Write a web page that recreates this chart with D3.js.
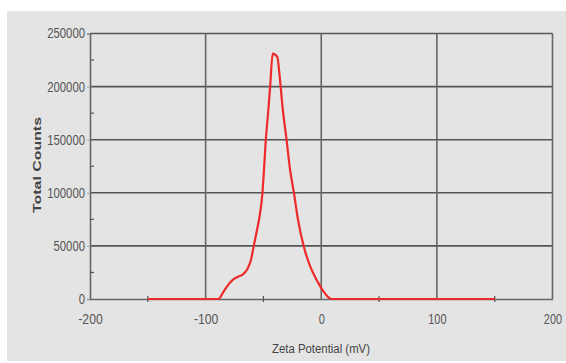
<!DOCTYPE html>
<html><head><meta charset="utf-8">
<script src="https://cdn.jsdelivr.net/npm/d3@7"></script>
<style>body{margin:0;background:#fff}svg{display:block}</style>
</head><body>
<svg id="c" width="566" height="363"></svg>
<script>
const xTicks = [-200, -100, 0, 100, 200];
const xMinor = [-150, -50, 50, 150];
const yTicks = [0, 50000, 100000, 150000, 200000, 250000];
const yMinor = [25000, 75000, 125000, 175000, 225000];
const zeta = [-150,-89,-85,-80,-76,-72,-68,-64,-61,-58,-55,-53,-51,-49.5,-48,-46,-44.2,-42,-38,-36,-33.5,-30,-27,-23.5,-20,-15,-10,-5,-2,2,5.5,9,150];
const counts = [0,0,6000,14000,18500,21000,23000,28000,36000,52000,68000,80000,98000,122000,149000,175000,200000,231000,228000,210000,181000,150000,122000,99000,74000,49000,32000,20000,14000,7000,2200,0,0];
const xTitle = "Zeta Potential (mV)";
const yTitle = "Total Counts";

const svg = d3.select("#c");
svg.append("rect").attr("x",7).attr("y",11).attr("width",559).attr("height",350).attr("fill","#e4e4e4");
const L=90, R=552.5, T=33.5, B=299;
const x = d3.scaleLinear().domain([-200,200]).range([L,R]);
const y = d3.scaleLinear().domain([0,250000]).range([B,T]);
const font = "'Liberation Sans',Arial,sans-serif";
const fmt = d => String(d);

// grid
svg.append("g").selectAll("line").data(yTicks.filter(d=>d>0)).join("line")
  .attr("x1",L).attr("x2",R).attr("y1",d=>y(d)).attr("y2",d=>y(d))
  .attr("stroke","#555").attr("stroke-width",1.6);
svg.append("g").selectAll("line").data(xTicks.filter(d=>d>-200)).join("line")
  .attr("y1",T).attr("y2",B).attr("x1",d=>x(d)).attr("x2",d=>x(d))
  .attr("stroke","#666").attr("stroke-width",1.6);

// axes
const ax = svg.append("g").attr("transform",`translate(0,${B})`)
  .call(d3.axisBottom(x).tickValues(xTicks).tickSize(0).tickPadding(15).tickFormat(fmt));
ax.select(".domain").attr("stroke","#666").attr("stroke-width",1.6);
ax.selectAll("text").attr("font-family",font).attr("font-size",14).attr("fill","#555")
  .attr("textLength",function(){return this.textContent.length*6.1;}).attr("lengthAdjust","spacingAndGlyphs");
const ay = svg.append("g").attr("transform",`translate(${L},0)`)
  .call(d3.axisLeft(y).tickValues(yTicks).tickSize(3).tickPadding(2).tickFormat(fmt));
ay.select(".domain").attr("stroke","#666").attr("stroke-width",1.6);
ay.selectAll(".tick line").attr("stroke","#9ab");
ay.selectAll("text").attr("font-family",font).attr("font-size",14).attr("fill","#555")
  .attr("textLength",function(){return this.textContent.length*6.3;}).attr("lengthAdjust","spacingAndGlyphs");

// minor ticks
svg.append("g").selectAll("line").data(xMinor).join("line")
  .attr("x1",d=>x(d)).attr("x2",d=>x(d)).attr("y1",B-3).attr("y2",B+3)
  .attr("stroke","#555").attr("stroke-width",1.2);
svg.append("g").selectAll("line").data(yMinor).join("line")
  .attr("x1",L).attr("x2",L+4).attr("y1",d=>y(d)).attr("y2",d=>y(d))
  .attr("stroke","#555").attr("stroke-width",1.2);

// curve
const pts = zeta.map((v,i)=>[v,counts[i]]);
svg.append("path").datum(pts)
  .attr("d", d3.line().x(d=>x(d[0])).y(d=>y(d[1])).curve(d3.curveMonotoneX))
  .attr("fill","none").attr("stroke","#ee2a2a").attr("stroke-width",2.2).attr("stroke-linejoin","round");

// titles
svg.append("text").attr("x",321).attr("y",353).attr("text-anchor","middle")
  .attr("font-family",font).attr("font-size",12).attr("fill","#444")
  .attr("textLength",98).attr("lengthAdjust","spacingAndGlyphs").text(xTitle);
svg.append("text").attr("transform","translate(41,165) rotate(-90)").attr("text-anchor","middle")
  .attr("font-family",font).attr("font-weight","bold").attr("font-size",11).attr("fill","#444")
  .attr("textLength",96).attr("lengthAdjust","spacingAndGlyphs").text(yTitle);
</script>
</body></html>
